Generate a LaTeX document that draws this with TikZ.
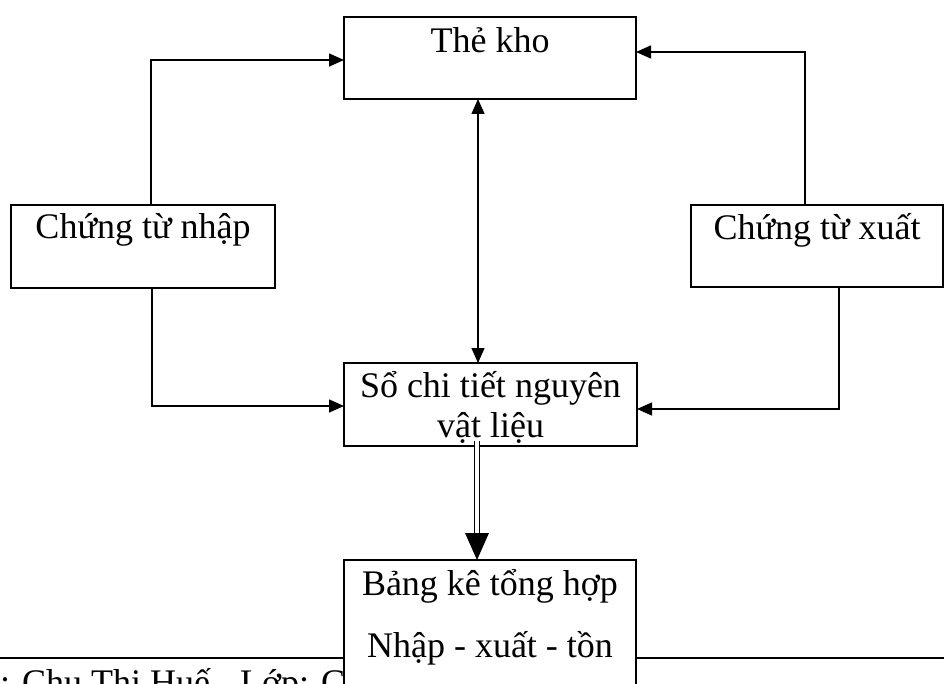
\documentclass[tikz,border=0pt]{standalone}
\usepackage{fontspec}
\setmainfont{Liberation Serif}
\usetikzlibrary{arrows.meta}
\newcommand{\boxlines}[3]{\vtop{\hsize=#1\parindent=0pt\centering\baselineskip=#2\lineskiplimit=-100pt #3\par}}
\begin{document}
\begin{tikzpicture}[x=1pt,y=-1pt,
  box/.style={draw, line width=1.3pt, fill=white, inner sep=0pt, outer sep=0pt,
    anchor=north west, font=\fontsize{36}{40}\selectfont},
  conn/.style={line width=1.5pt, -{Triangle[length=15pt,width=13pt]}},
  biconn/.style={line width=1.5pt, {Triangle[length=15pt,width=13pt]}-{Triangle[length=15pt,width=13pt]}},
  dbl/.style={double, double distance=3.8pt, line width=1.2pt},
  rule/.style={line width=1.3pt},
  foot/.style={inner sep=0pt, anchor=base west, font=\fontsize{36}{40}\selectfont}
]
\useasboundingbox (0,0) rectangle (944,684);
\clip (0,0) rectangle (944,684);

% footer rule and text (partly hidden by the last box)
\draw[rule] (0,658) -- (944,658);
\node[foot] (ft) at (0,694) {: Chu Thi Huế - Lớp: C};

% boxes
\node[box, minimum width=292pt, text height=36pt, text depth=46pt] (tk) at (344,17) {Thẻ kho};
\node[box, minimum width=264pt, text height=34pt, text depth=49pt] (ctn) at (11,205) {Chứng từ nhập};
\node[box, minimum width=252pt, text height=35pt, text depth=47pt] (ctx) at (691,205) {Chứng từ xuất};
\node[box, text height=34pt, text depth=49pt] (so) at (344,363)
  {\boxlines{293pt}{40pt}{Sổ chi tiết nguyên\par vật liệu}};
\node[box, text height=35pt, text depth=150pt] (bk) at (344,560)
  {\boxlines{292pt}{62pt}{Bảng kê tổng hợp\par Nhập - xuất - tồn}};

% corner coordinates
\coordinate (lt) at (151,60);
\coordinate (rt) at (805,52);
\coordinate (lb) at (152,406);
\coordinate (rb) at (839,409);
\coordinate (vx) at (478,0);
\coordinate (dx) at (477,441);

% connectors
\draw[conn] (ctn.north -| lt) |- (tk.west |- lt);
\draw[conn] (ctx.north -| rt) |- (tk.east |- rt);
\draw[conn] (ctn.south -| lb) |- (so.west |- lb);
\draw[conn] (ctx.south -| rb) |- (so.east |- rb);
\draw[biconn] (tk.south -| vx) -- (so.north -| vx);

% double arrow to Bang ke
\draw[dbl, shorten >=25pt] (dx) -- (bk.north -| dx);
\fill (bk.north -| dx) -- ++(-12,-27) -- ++(24,0) -- cycle;
\end{tikzpicture}
\end{document}
